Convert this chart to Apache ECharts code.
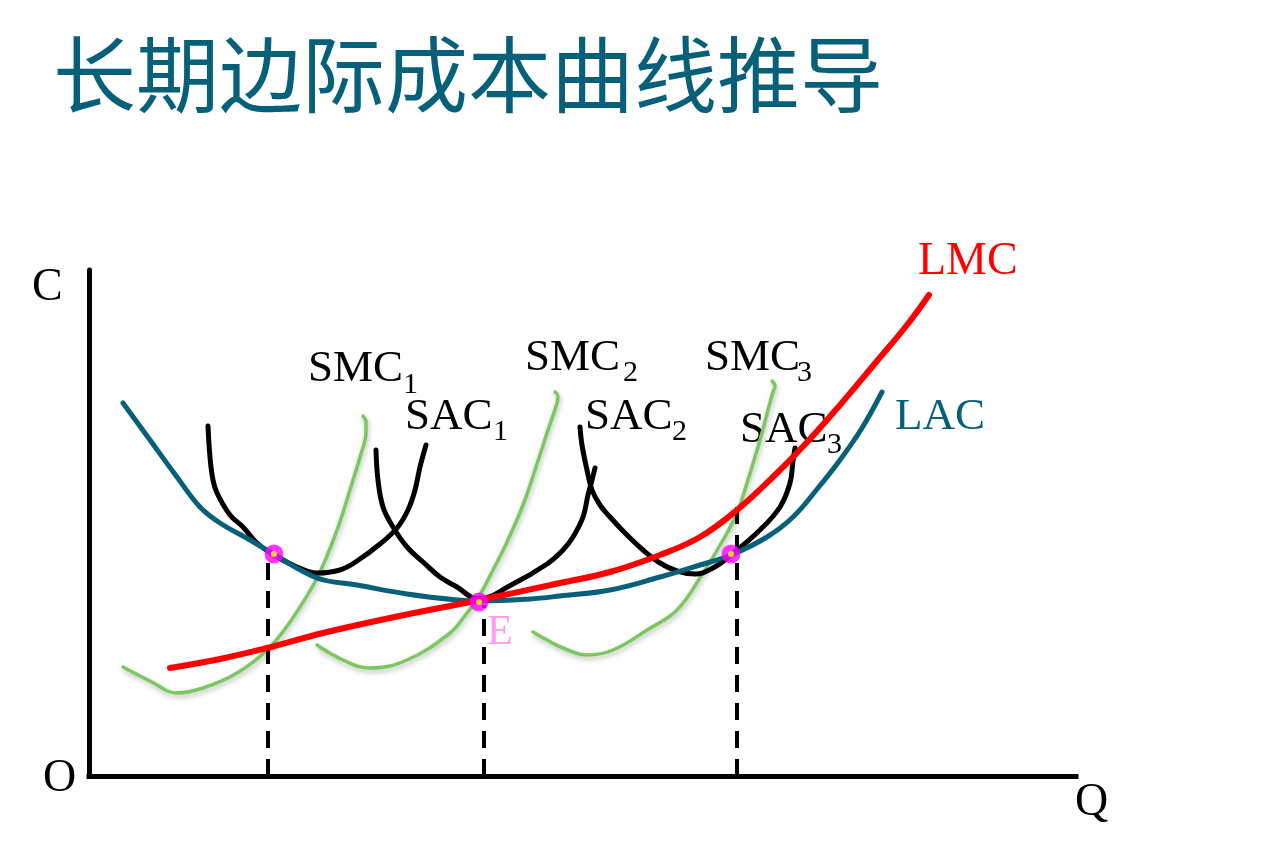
<!DOCTYPE html>
<html><head><meta charset="utf-8">
<script src="https://cdn.jsdelivr.net/npm/echarts@6/dist/echarts.min.js"></script>
<style>html,body{margin:0;padding:0;background:#fff}#c{width:1280px;height:860px}</style>
</head><body><div id="c"></div>
<script>
// Title and axis letters
const TITLE = '长期边际成本曲线推导';
const AXIS_NAMES = { y: 'C', origin: 'O', x: 'Q' };

// Axis ranges (quantity Q, cost C)
const Q_MAX = 987;
const C_MAX = 506;

// Long-run curves [Q, C]
const LAC = [[34,373],[61,336],[88,299],[111,269],[131,253],[161,236],[186,221],[228,198],[268,191],[318,182],[368,176],[391,175],[441,177],[471,180],[521,186],[571,199],[611,211],[642,221],[678,239],[704,259],[729,288],[751,316],[773,348],[793,384]];
const LMC = [[81,108],[131,117],[178,128],[234,143],[301,158],[391,176],[471,193],[521,204],[571,221],[611,239],[648,266],[688,303],[721,337],[751,371],[788,415],[818,451],[840,481]];

// Short-run average cost curves
const SAC1 = [[119,350],[121,319],[124,296],[128,283],[141,261],[154,249],[168,233],[185,221],[208,209],[228,203],[251,206],[268,215],[291,232],[308,248],[319,266],[326,286],[331,309],[337,331]];
const SAC2 = [[287,326],[289,296],[294,269],[304,249],[318,229],[334,214],[351,199],[368,189],[389,177],[424,192],[458,212],[474,226],[484,239],[494,259],[499,281],[503,296],[506,308]];
const SAC3 = [[491,349],[493,331],[498,306],[503,286],[511,271],[521,259],[536,243],[554,226],[571,213],[588,205],[606,202],[624,208],[642,221],[671,246],[691,269],[701,293],[704,315],[706,328]];

// Short-run marginal cost curves
const SMC1 = [[34,109],[61,95],[88,83],[114,88],[148,103],[178,126],[201,154],[228,198],[248,246],[264,296],[271,319],[277,344],[277,354],[274,360]];
const SMC2 = [[228,131],[254,116],[281,108],[318,116],[361,143],[378,163],[389,178],[404,206],[418,234],[434,271],[446,306],[459,346],[468,373],[469,380],[466,384]];
const SMC3 = [[444,144],[458,136],[474,128],[498,121],[524,126],[558,146],[588,166],[614,203],[634,236],[648,263],[658,293],[671,336],[679,366],[684,384],[686,390],[683,395]];

// Tangency points and dashed drop lines
const POINTS = [[185,222],[390,174],[642,222]];
const DROP_Q = [179, 395, 648];
const DROP_TOP = [221, 171, 276];

// Curve labels: [main, subscript]
const LABELS = [['SMC','1'],['SAC','1'],['SMC','2'],['SAC','2'],['SMC','3'],['SAC','3'],['LAC',''],['LMC',''],['E','']];

const TEAL = '#07607a', RED = '#ff0000', GREEN = '#7dc763', PINK = '#ff9cf0';
const SERIF = '"Liberation Serif","Times New Roman",serif';

const chart = echarts.init(document.getElementById('c'), null, { renderer: 'canvas' });

function curve(name, data, color, width, extra) {
  return Object.assign({
    type: 'line', name, data, smooth: 0.4, symbol: 'none', silent: true, animation: false,
    lineStyle: { color, width, cap: 'round', join: 'round' }
  }, extra || {});
}
const greenStyle = { color: GREEN, width: 3.5, cap: 'round', join: 'round', shadowColor: 'rgba(60,90,40,0.35)', shadowBlur: 5, shadowOffsetX: 1, shadowOffsetY: 3 };

const series = [];
[SMC1, SMC2, SMC3].forEach((d, i) => series.push(Object.assign(curve('SMC' + (i + 1), d, GREEN, 3.5), { lineStyle: greenStyle, z: 2 })));
[SAC1, SAC2, SAC3].forEach((d, i) => series.push(curve('SAC' + (i + 1), d, '#000', 5, { z: 3 })));
series.push(curve('LAC', LAC, TEAL, 5, { z: 4 }));
series.push(curve('LMC', LMC, RED, 6, { z: 5 }));
DROP_Q.forEach((q, i) => series.push({
  type: 'line', data: [[q, 0], [q, DROP_TOP[i]]], symbol: 'none', silent: true, animation: false, z: 4,
  lineStyle: { color: '#000', width: 4, type: [17, 11] }
}));
series.push({ type: 'scatter', data: POINTS, symbol: 'circle', symbolSize: 19, itemStyle: { color: '#ff00ff' }, silent: true, animation: false, z: 6 });
series.push({ type: 'scatter', data: POINTS, symbol: 'circle', symbolSize: 6, itemStyle: { color: '#ffff00' }, silent: true, animation: false, z: 7 });

// text positions: [x, yCenter, size, color] for main, and [x, yCenter] for subscript
const LABEL_POS = [
  [308, 369.5, 45, '#000', 403, 385],
  [405, 417, 45, '#000', 493, 432],
  [525, 358.5, 45, '#000', 623, 373],
  [585, 417, 45, '#000', 672, 432],
  [705, 358.5, 45, '#000', 797, 373],
  [740, 430, 45, '#000', 827, 445],
  [895, 417.5, 45, TEAL],
  [918, 262, 46, RED],
  [487, 632.5, 42, PINK]
];

function txt(text, x, y, size, fill, family) {
  return { type: 'text', x, y, silent: true, z: 1,
    style: { text, fontSize: size, fontFamily: family || SERIF, fill, verticalAlign: 'middle', align: 'left' } };
}
const graphics = [
  txt(TITLE, 53, 74, 83, TEAL, '"Noto Sans CJK SC","Noto Sans",sans-serif'),
  txt(AXIS_NAMES.y, 32, 287.5, 46, '#000'),
  txt(AXIS_NAMES.origin, 43, 778.5, 46, '#000'),
  txt(AXIS_NAMES.x, 1075, 803, 46, '#000')
];
LABELS.forEach((l, i) => {
  const p = LABEL_POS[i];
  graphics.push(txt(l[0], p[0], p[1], p[2], p[3]));
  if (l[1]) graphics.push(txt(l[1], p[4], p[5], 30, p[3]));
});

chart.setOption({
  animation: false,
  backgroundColor: '#fff',
  grid: { left: 89, top: 270, width: Q_MAX, height: C_MAX, containLabel: false },
  xAxis: { type: 'value', min: 0, max: Q_MAX, axisLine: { show: true, onZero: false, lineStyle: { color: '#000', width: 5, cap: 'square' } },
    axisTick: { show: false }, axisLabel: { show: false }, splitLine: { show: false } },
  yAxis: { type: 'value', min: 0, max: C_MAX, axisLine: { show: true, onZero: false, lineStyle: { color: '#000', width: 5 } },
    axisTick: { show: false }, axisLabel: { show: false }, splitLine: { show: false } },
  graphic: { elements: graphics },
  series
});
</script></body></html>
